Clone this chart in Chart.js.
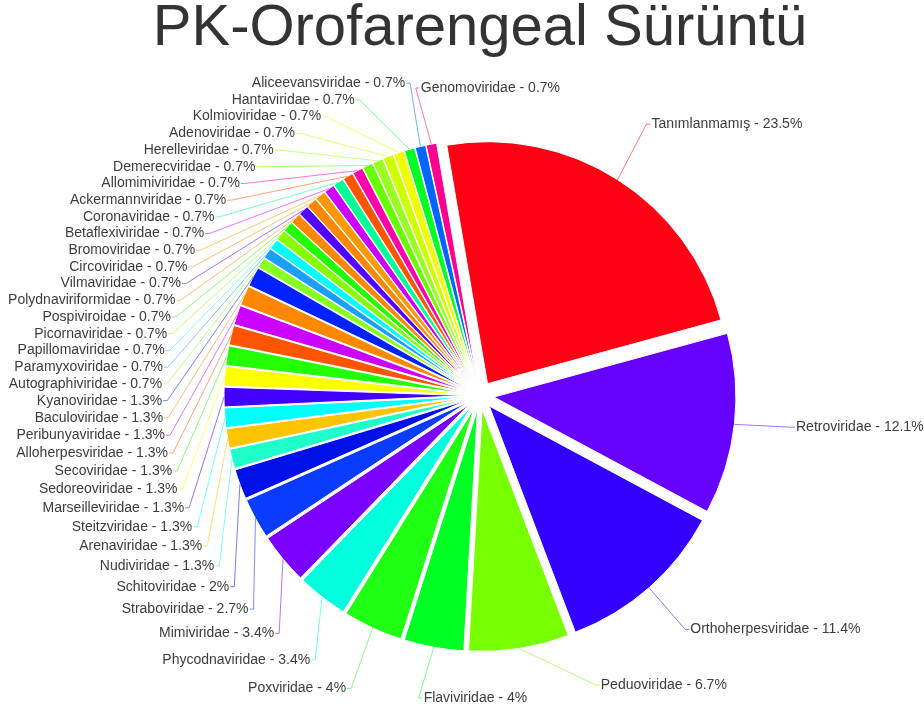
<!DOCTYPE html>
<html lang="tr">
<head>
    <meta charset="UTF-8">
    <title>PK-Orofarengeal Sürüntü</title>
    <script src="https://cdn.jsdelivr.net/npm/chart.js@4"></script>
    <style>
        body {
            margin: 0;
            background: #fff;
        }
        .chart-wrapper {
            position: relative;
            width: 924px;
            height: 711px;
        }
    </style>
</head>
<body>
    <div class="chart-wrapper">
        <canvas id="virusChart"></canvas>
    </div>

    <script>
        const families = [
            'Tanımlanmamış', 'Retroviridae', 'Orthoherpesviridae', 'Peduoviridae', 'Flaviviridae',
            'Poxviridae', 'Phycodnaviridae', 'Mimiviridae', 'Straboviridae', 'Schitoviridae',
            'Nudiviridae', 'Arenaviridae', 'Steitzviridae', 'Marseilleviridae', 'Sedoreoviridae',
            'Secoviridae', 'Alloherpesviridae', 'Peribunyaviridae', 'Baculoviridae', 'Kyanoviridae',
            'Autographiviridae', 'Paramyxoviridae', 'Papillomaviridae', 'Picornaviridae', 'Pospiviroidae',
            'Polydnaviriformidae', 'Vilmaviridae', 'Circoviridae', 'Bromoviridae', 'Betaflexiviridae',
            'Coronaviridae', 'Ackermannviridae', 'Allomimiviridae', 'Demerecviridae', 'Herelleviridae',
            'Adenoviridae', 'Kolmioviridae', 'Hantaviridae', 'Aliceevansviridae', 'Genomoviridae'
        ];

        // percentage of reads per family
        const percents = [
            23.5, 12.1, 11.4, 6.7, 4,
            4, 3.4, 3.4, 2.7, 2,
            1.3, 1.3, 1.3, 1.3, 1.3,
            1.3, 1.3, 1.3, 1.3, 1.3,
            0.7, 0.7, 0.7, 0.7, 0.7,
            0.7, 0.7, 0.7, 0.7, 0.7,
            0.7, 0.7, 0.7, 0.7, 0.7,
            0.7, 0.7, 0.7, 0.7, 0.7
        ];

        const sliceColors = [
            '#ff0015', '#6600ff', '#3300ff', '#77ff00', '#00ff22',
            '#1eff14', '#00ffdd', '#7a00ff', '#0a3cff', '#0010e8',
            '#1effcc', '#ffc400', '#00ffff', '#4400ff', '#ffff00',
            '#22ff00', '#ff5500', '#cc00ff', '#ff8800', '#0022ff',
            '#88ff22', '#1a9fff', '#00ffff', '#88ff00', '#22ff00',
            '#ff8800', '#5500ff', '#ff8800', '#ff9900', '#cc00ff',
            '#00ff99', '#ff5500', '#ff00aa', '#66ff00', '#99ff22',
            '#ccff00', '#eeff00', '#00ff22', '#0066ff', '#ff0090'
        ];

        const SHIFT = 14;        // every slice is pulled out from the centre by this much (px)
        const PIE_RADIUS = 242;
        const RING_R = 317;      // labels sit on this circle
        const RING_DY = -4;
        const LABEL_TOP = 83;
        const LABEL_BOTTOM = 698;

        // the built-in offset also trims thin slices, so move the arcs ourselves
        class ExplodedArc extends Chart.ArcElement {
            static id = 'explodedArc';
            draw(ctx) {
                const mid = (this.startAngle + this.endAngle) / 2;
                ctx.save();
                ctx.translate(Math.cos(mid) * SHIFT, Math.sin(mid) * SHIFT);
                super.draw(ctx);
                ctx.restore();
            }
        }

        class ExplodedPieController extends Chart.PieController {
            static id = 'explodedPie';
            static defaults = { dataElementType: 'explodedArc' };
        }

        Chart.register(ExplodedArc, ExplodedPieController);

        function fade(hex, a) {
            const n = parseInt(hex.slice(1), 16);
            return `rgba(${n >> 16}, ${(n >> 8) & 255}, ${n & 255}, ${a})`;
        }

        const sliceLabels = {
            id: 'sliceLabels',
            afterDatasetsDraw(chart) {
                const ctx = chart.ctx;
                const meta = chart.getDatasetMeta(0);
                const r0 = meta.controller.outerRadius;

                const items = meta.data.map((arc, i) => {
                    const mid = (arc.startAngle + arc.endAngle) / 2;
                    const cx = arc.x, cy = arc.y + RING_DY;
                    let deg = (mid * 180 / Math.PI + 90) % 360;
                    deg = ((deg + 360 + 90) % 360) - 90;
                    return {
                        i, mid, deg, cx, cy,
                        ax: arc.x + Math.cos(mid) * (r0 + SHIFT),
                        ay: arc.y + Math.sin(mid) * (r0 + SHIFT),
                        nx: cx + Math.cos(mid) * RING_R,
                        ny: cy + Math.sin(mid) * RING_R,
                        side: Math.cos(mid) > -0.21 ? 1 : -1
                    };
                });

                // left column: stack downwards, a little more room lower down
                const left = items.filter(d => d.side < 0).sort((a, b) => a.ny - b.ny);
                let prev = -Infinity;
                left.forEach(d => {
                    const fromTop = Math.acos(-Math.sin(d.mid)) * 180 / Math.PI;
                    const gap = 16.7 + 0.062 * Math.max(0, fromTop - 60) + 0.11 * Math.max(0, fromTop - 100);
                    d.y = Math.max(d.ny, LABEL_TOP, prev + gap);
                    prev = d.y;
                });

                // right column: push down, then back up from the bottom edge
                const right = items.filter(d => d.side > 0).sort((a, b) => a.deg - b.deg);
                prev = -Infinity;
                right.forEach(d => {
                    d.y = Math.max(d.ny, LABEL_TOP + 5, prev + 14);
                    prev = d.y;
                });
                let next = Infinity;
                for (let k = right.length - 1; k >= 0; k--) {
                    const d = right[k];
                    d.y = Math.min(d.y, LABEL_BOTTOM, next - 13);
                    next = d.y;
                }

                ctx.save();
                ctx.font = '14px "Liberation Sans", Arial, sans-serif';
                ctx.textBaseline = 'middle';
                ctx.lineWidth = 1;
                items.forEach(d => {
                    let x;
                    if (Math.abs(d.y - d.ny) < 10) {
                        x = d.nx;
                    } else {
                        const dy = d.y - d.cy;
                        x = d.cx + d.side * Math.sqrt(Math.max(0, RING_R * RING_R - dy * dy));
                    }
                    ctx.strokeStyle = fade(sliceColors[d.i], 0.55);
                    ctx.beginPath();
                    ctx.moveTo(d.ax, d.ay);
                    ctx.lineTo(x - d.side * 4, d.y);
                    ctx.lineTo(x, d.y);
                    ctx.stroke();

                    ctx.fillStyle = '#3c3c3c';
                    ctx.textAlign = d.side > 0 ? 'left' : 'right';
                    ctx.fillText(`${families[d.i]} - ${percents[d.i]}%`, x + d.side * 1, d.y);
                });
                ctx.restore();
            }
        };

        new Chart(document.getElementById('virusChart'), {
            type: 'explodedPie',
            data: {
                labels: families,
                datasets: [{
                    data: percents,
                    backgroundColor: sliceColors,
                    borderColor: '#ffffff',
                    borderWidth: 1,
                    radius: PIE_RADIUS
                }]
            },
            options: {
                responsive: true,
                maintainAspectRatio: false,
                animation: false,
                events: [],
                rotation: -9.7,
                layout: {
                    padding: { left: 36, right: 0, top: 0, bottom: 0 }
                },
                plugins: {
                    legend: { display: false },
                    tooltip: { enabled: false },
                    title: {
                        display: true,
                        text: 'PK-Orofarengeal Sürüntü',
                        color: '#333333',
                        font: { family: '"Liberation Sans", Arial, sans-serif', size: 58, weight: 'normal', lineHeight: 1 },
                        padding: { top: 0, bottom: 22 }
                    }
                }
            },
            plugins: [sliceLabels]
        });
    </script>
</body>
</html>
